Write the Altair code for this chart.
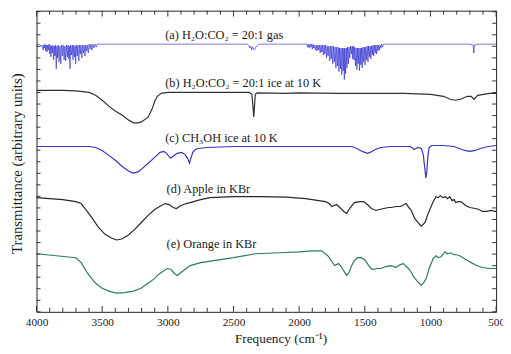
import altair as alt
import pandas as pd

# ---------------- data (frequency in cm-1, transmittance in arbitrary units) -------------
names = ["a", "b", "c", "d", "e"]
colors = ["#1818c8", "#303030", "#3434c0", "#282828", "#2e7a5c"]

freq_a = [4000, 3980, 3965,
          3955, 3950, 3945, 3940, 3935, 3930, 3925, 3920, 3915, 3910, 3905, 3900, 3895, 3890,
          3885, 3880, 3875, 3870, 3865, 3860, 3855, 3850, 3845, 3840, 3835, 3828, 3822, 3815,
          3810, 3803, 3797, 3790, 3784, 3778, 3772, 3765, 3760, 3754, 3750, 3745, 3740, 3733,
          3728, 3722, 3717, 3711, 3706, 3702, 3697, 3690, 3685, 3678, 3673, 3667, 3662, 3655,
          3650, 3643, 3638, 3631, 3626, 3619, 3614, 3606, 3600, 3592, 3586, 3578, 3572, 3562,
          3555, 3545, 3538,
          3500, 3200, 3000, 2800, 2600, 2400, 2385, 2375, 2368, 2362, 2355, 2348, 2340, 2333,
          2325, 2315, 2300, 2200, 2000, 1950,
          1940, 1935, 1930, 1924, 1918, 1912, 1906, 1900, 1894, 1888, 1882, 1876, 1870, 1864,
          1858, 1852, 1846, 1840, 1834, 1828, 1822, 1816, 1810, 1804, 1798, 1792, 1786, 1780,
          1774, 1768, 1762, 1756, 1750, 1744, 1738, 1732, 1726, 1720, 1714, 1708, 1702, 1697,
          1692, 1686, 1681, 1675, 1670, 1664, 1659, 1656, 1652, 1646, 1641, 1636, 1631, 1625,
          1620, 1614, 1608, 1602, 1596, 1592, 1588, 1582, 1577, 1571, 1566, 1560, 1555, 1550,
          1545, 1540, 1535, 1530, 1525, 1520, 1515, 1509, 1504, 1498, 1493, 1487, 1482, 1476,
          1471, 1465, 1460, 1454, 1449, 1443, 1438, 1432, 1427, 1421, 1416, 1410, 1405, 1399,
          1394, 1388, 1383, 1377, 1372, 1365, 1358, 1350,
          1300, 1100, 900, 700, 675, 670, 665, 640, 500]
val_a = [271, 272, 270,
         271, 266, 271, 268, 272, 265, 271, 264, 271, 266, 272, 262, 271, 259,
         270, 263, 271, 256, 270, 260, 271, 247, 270, 258, 271, 254, 270, 252,
         271, 260, 271, 256, 270, 255, 271, 259, 271, 257, 270, 247, 271, 261,
         271, 256, 271, 259, 270, 252, 271, 260, 271, 255, 271, 262, 271, 258,
         271, 263, 271, 260, 271, 265, 271, 263, 272, 267, 272, 266, 272, 268,
         272, 269, 272,
         272, 272, 272, 272, 272, 272, 271, 268, 270, 266, 269, 267, 266, 268,
         270, 271, 272, 272, 272, 272,
         272, 269, 272, 268, 272, 269, 272, 267, 272, 268, 271, 266, 271, 265,
         271, 266, 271, 263, 271, 264, 271, 261, 271, 262, 271, 258, 270, 260,
         270, 255, 270, 257, 270, 252, 270, 254, 269, 248, 269, 250, 269, 244,
         268, 247, 268, 241, 268, 245, 268, 236, 268, 242, 268, 248, 269, 252,
         269, 258, 270, 262, 270, 257, 270, 256, 269, 250, 268, 246, 268, 252,
         268, 245, 268, 251, 268, 248, 269, 254, 269, 251, 269, 256, 270, 254,
         270, 259, 270, 257, 270, 261, 271, 260, 271, 263, 271, 262, 271, 265,
         271, 266, 271, 268, 272, 269, 272, 272,
         272, 272, 272, 272, 271, 263, 271, 272, 272]

freq_b = [4000, 3800, 3700, 3600, 3550, 3500, 3450, 3400, 3350, 3300, 3260, 3230, 3200, 3150,
          3120, 3100, 3080, 3050, 3000, 2800, 2500, 2380, 2360, 2352, 2346, 2340, 2334, 2320,
          2100, 2000, 1700, 1500, 1200, 1000, 900, 850, 810, 770, 720, 690, 668, 655, 640, 550, 500]
val_b = [225, 225, 224.5, 223, 220, 215, 209, 204, 200, 195, 192, 192, 193, 198,
         206, 214, 219, 222, 223, 223, 223, 223, 221, 209, 198, 209, 221, 222.5,
         222, 222.5, 222, 222, 222, 221, 219, 216, 215, 216, 219, 219, 216, 218, 220, 222, 222]

freq_c = [4000, 3600, 3550, 3500, 3450, 3400, 3350, 3300, 3265, 3230, 3200, 3150, 3100, 3060,
          3030, 3010, 2980, 2960, 2930, 2895, 2870, 2850, 2835, 2825, 2810, 2790, 2770, 2700,
          2500, 2000, 1600, 1560, 1520, 1480, 1460, 1420, 1380, 1300, 1160, 1140, 1125, 1110,
          1095, 1070, 1055, 1045, 1035, 1028, 1020, 1010, 990, 900, 820, 780, 740, 700, 660,
          620, 560, 500]
val_c = [168, 168, 167, 164, 159, 154, 148, 143, 141, 142, 145, 151, 157, 162,
         163, 161, 156, 158, 161, 162, 160, 156, 151, 156, 162, 165, 166, 167,
         168, 168, 168, 166, 163, 161, 162, 165, 167, 168, 168, 167, 165, 166,
         167, 166, 160, 148, 136, 142, 158, 167, 169, 169, 168, 166, 164, 163, 164,
         166, 168, 169]

freq_d = [4000, 3900, 3800, 3700, 3660, 3620, 3580, 3530, 3480, 3430, 3390, 3350, 3300, 3250,
          3200, 3150, 3100, 3050, 3020, 2990, 2960, 2935, 2900, 2860, 2830, 2750, 2680, 2500,
          2300, 2100, 1950, 1850, 1800, 1770, 1752, 1715, 1690, 1660, 1639, 1610, 1580, 1540,
          1510, 1480, 1450, 1414, 1390, 1354, 1320, 1300, 1260, 1227, 1200, 1185, 1165, 1150,
          1120, 1090, 1070, 1055, 1040, 1020, 995, 975, 957, 940, 925, 905, 885, 870, 853, 835,
          820, 807, 790, 770, 750, 733, 700, 657, 630, 605, 570, 540, 507, 500]
val_d = [116, 115, 114, 112, 110, 103, 96, 86, 79, 75, 73, 74, 78, 84,
         91, 98, 104, 108, 110, 109, 106, 105, 108, 110, 111, 114, 116, 117,
         117, 116.5, 115, 113, 112, 110, 107, 109, 106, 102, 100, 106, 111, 112,
         112, 109, 105, 103, 104, 105, 106, 106, 107, 107, 109, 110, 106, 104,
         95, 90, 87, 89, 91, 99, 107, 113, 117, 116, 118, 116, 117, 115, 117, 113,
         114, 111, 112, 112, 110, 108, 106, 105, 104, 102, 102, 103, 102, 102]

freq_e = [4000, 3850, 3700, 3660, 3620, 3600, 3550, 3500, 3450, 3390, 3330, 3260, 3205, 3150,
          3100, 3078, 3040, 3003, 2975, 2950, 2928, 2900, 2860, 2830, 2750, 2650, 2500, 2330,
          2150, 2000, 1900, 1830, 1782, 1730, 1700, 1680, 1639, 1620, 1600, 1580, 1555, 1527,
          1500, 1470, 1444, 1410, 1377, 1340, 1302, 1280, 1265, 1230, 1205, 1185, 1167, 1145,
          1130, 1100, 1070, 1050, 1032, 1010, 980, 957, 940, 920, 900, 890, 870, 845, 820, 800,
          778, 740, 703, 650, 605, 550, 507, 500]
val_e = [59, 57, 55, 50, 41, 37, 29, 24, 21, 19, 19.5, 21, 24, 29,
         34, 37, 41, 44, 43, 39, 37, 40, 44, 47, 50, 52, 55, 59,
         60, 61, 62, 62, 57, 47, 49, 46, 37, 40, 47, 52, 55, 55,
         53, 47, 43, 44, 44, 46, 47, 46, 45, 48, 49, 46, 44, 40,
         36, 31, 27, 30, 34, 44, 54, 57, 55, 56, 59, 61, 59, 60, 58, 58,
         57, 54, 51, 47, 45, 44, 44, 44]

label_text = ["(a) H\u2082O:CO\u2082 = 20:1 gas",
              "(b) H\u2082O:CO\u2082 = 20:1 ice at 10 K",
              "(c) CH\u2083OH ice at 10 K",
              "(d) Apple in KBr",
              "(e) Orange in KBr"]
label_freq = [3020, 3020, 3020, 3010, 3010]
label_val = [281, 232, 177, 125, 69]

x_label_values = [4000, 3500, 3000, 2500, 2000, 1500, 1000, 500]
x_tick_values = list(range(500, 4001, 100))
y_tick_values = [0, 11.73, 23.46, 35.19, 46.92, 58.65, 70.38, 82.11, 93.84, 105.57, 117.3,
                 129.03, 140.76, 152.49, 164.22, 175.95, 187.68, 199.41, 211.14, 222.87,
                 234.6, 246.33, 258.06, 269.79, 281.52, 293.25, 304.98]

# ---------------- build tables ----------------
rows = []
for n, fs, vs in zip(names, [freq_a, freq_b, freq_c, freq_d, freq_e],
                     [val_a, val_b, val_c, val_d, val_e]):
    for f, v in zip(fs, vs):
        rows.append({"series": n, "freq": f, "trans": v})
df = pd.DataFrame(rows)

lab = pd.DataFrame({"label": label_text, "freq": label_freq, "trans": label_val})
xt = pd.DataFrame({"freq": x_tick_values,
                   "major": [v % 500 == 0 for v in x_tick_values]})
yt = pd.DataFrame({"trans": y_tick_values})

W, H = 467, 306
FONT = "Liberation Serif"

xscale = alt.Scale(domain=[500, 4000], reverse=True, nice=False, zero=False)
yscale = alt.Scale(domain=[0, 306], nice=False, zero=False)

xaxis = alt.Axis(values=x_label_values, format="d", title="Frequency (cm\u207b\u00b9)",
                 titleX=248, titleY=27)
yaxis = alt.Axis(title="Transmittance (arbitrary units)", labels=False,
                 titleX=-20, titleY=155)

X_ = alt.X("freq:Q", scale=xscale, axis=xaxis)
Y_ = alt.Y("trans:Q", scale=yscale, axis=yaxis)

color = alt.Color("series:N", scale=alt.Scale(domain=names, range=colors), legend=None)

base = alt.Chart(df).encode(x=X_, y=Y_, color=color)
gas = base.transform_filter(alt.datum.series == "a").mark_line(strokeWidth=0.6)
others = base.transform_filter(alt.datum.series != "a").mark_line(strokeWidth=1.2)

texts = alt.Chart(lab).mark_text(align="left", baseline="middle", font=FONT, fontSize=12.5,
                                 color="#1a1a1a").encode(x=X_, y=Y_, text="label:N")

xt_major = alt.Chart(xt).transform_filter(alt.datum.major)
xt_minor = alt.Chart(xt).transform_filter(~alt.datum.major)
tick_color = "#333"
ticks = [
    xt_major.mark_rule(color=tick_color).encode(x=X_, y=alt.value(H), y2=alt.value(H - 6)),
    xt_minor.mark_rule(color=tick_color).encode(x=X_, y=alt.value(H), y2=alt.value(H - 4)),
    xt_major.mark_rule(color=tick_color).encode(x=X_, y=alt.value(0), y2=alt.value(6)),
    xt_minor.mark_rule(color=tick_color).encode(x=X_, y=alt.value(0), y2=alt.value(4)),
    alt.Chart(yt).mark_rule(color=tick_color).encode(y=Y_, x=alt.value(0), x2=alt.value(4)),
    alt.Chart(yt).mark_rule(color=tick_color).encode(y=Y_, x=alt.value(W), x2=alt.value(W - 4)),
]

chart = alt.layer(gas, others, texts, *ticks).properties(
    width=W, height=H,
    autosize=alt.AutoSizeParams(type="none"),
    padding={"left": 29, "top": 0, "right": 7, "bottom": 32},
    background="white",
).configure(
    font=FONT
).configure_view(
    stroke="#222", strokeWidth=1
).configure_axis(
    grid=False, ticks=False, tickSize=0, domain=False,
    labelFont=FONT, labelFontSize=11.5, labelColor="#222", labelPadding=5,
    labelOverlap=False, labelFlush=False,
    titleFont=FONT, titleFontWeight="normal", titleColor="#222",
    titleAlign="center", titleBaseline="middle",
).configure_axisX(
    titleFontSize=13.5
).configure_axisY(
    titleFontSize=15, titleAngle=270
)

chart.save("out.html", embed_options={"renderer": "svg", "actions": False})
